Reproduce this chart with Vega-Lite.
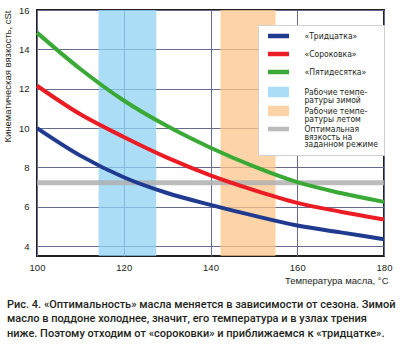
{
  "$schema": "https://vega.github.io/schema/vega-lite/v6.json",
  "width": 347,
  "height": 246,
  "autosize": {"type": "none"},
  "padding": {"left": 37, "top": 10, "right": 16, "bottom": 90},
  "background": "white",
  "config": {
    "view": {"stroke": "#231f20", "strokeWidth": 2},
    "axis": {
      "labelFont": "Liberation Sans",
      "labelFontSize": 9.5,
      "labelColor": "#231f20",
      "labelFlush": false,
      "titleFont": "Liberation Sans",
      "titleFontSize": 9.5,
      "titleFontWeight": "normal",
      "titleColor": "#231f20",
      "gridColor": "#666b8c",
      "gridWidth": 1,
      "gridOpacity": 1,
      "domain": false,
      "ticks": false
    }
  },
  "title": {
    "text": [
      "Рис. 4. «Оптимальность» масла меняется в зависимости от сезона. Зимой",
      "масло в поддоне холоднее, значит, его температура и в узлах трения",
      "ниже. Поэтому отходим от «сороковки» и приближаемся к «тридцатке»."
    ],
    "orient": "bottom",
    "anchor": "start",
    "frame": "group",
    "dx": -30,
    "offset": 14,
    "baseline": "top",
    "font": "Roboto",
    "fontSize": 11,
    "fontWeight": 500,
    "lineHeight": 14.8,
    "color": "#231f20"
  },
  "datasets": {
    "curves": [
      {"oil": "«Тридцатка»", "t": 100, "v": 10.0},
      {"oil": "«Тридцатка»", "t": 110, "v": 8.6},
      {"oil": "«Тридцатка»", "t": 120, "v": 7.5},
      {"oil": "«Тридцатка»", "t": 130, "v": 6.7},
      {"oil": "«Тридцатка»", "t": 140, "v": 6.1},
      {"oil": "«Тридцатка»", "t": 150, "v": 5.55},
      {"oil": "«Тридцатка»", "t": 160, "v": 5.05},
      {"oil": "«Тридцатка»", "t": 170, "v": 4.7},
      {"oil": "«Тридцатка»", "t": 180, "v": 4.35},
      {"oil": "«Сороковка»", "t": 100, "v": 12.15},
      {"oil": "«Сороковка»", "t": 110, "v": 10.7},
      {"oil": "«Сороковка»", "t": 120, "v": 9.55},
      {"oil": "«Сороковка»", "t": 130, "v": 8.5},
      {"oil": "«Сороковка»", "t": 140, "v": 7.6},
      {"oil": "«Сороковка»", "t": 150, "v": 6.85},
      {"oil": "«Сороковка»", "t": 160, "v": 6.2},
      {"oil": "«Сороковка»", "t": 170, "v": 5.75},
      {"oil": "«Сороковка»", "t": 180, "v": 5.35},
      {"oil": "«Пятидесятка»", "t": 100, "v": 14.85},
      {"oil": "«Пятидесятка»", "t": 110, "v": 13.0},
      {"oil": "«Пятидесятка»", "t": 120, "v": 11.4},
      {"oil": "«Пятидесятка»", "t": 130, "v": 10.1},
      {"oil": "«Пятидесятка»", "t": 140, "v": 9.0},
      {"oil": "«Пятидесятка»", "t": 150, "v": 8.05},
      {"oil": "«Пятидесятка»", "t": 160, "v": 7.25},
      {"oil": "«Пятидесятка»", "t": 170, "v": 6.7},
      {"oil": "«Пятидесятка»", "t": 180, "v": 6.25}
    ],
    "vbands": [
      {"oil": "Рабочие темпе-|ратуры зимой", "t1": 114.2, "t2": 127.5},
      {"oil": "Рабочие темпе-|ратуры летом", "t1": 142.3, "t2": 155.0}
    ],
    "hbands": [
      {"oil": "Оптимальная|вязкость на|заданном режиме", "v1": 7.1, "v2": 7.35}
    ]
  },
  "layer": [
    {
      "data": {"name": "vbands"},
      "mark": {"type": "rect", "opacity": 0.75},
      "encoding": {
        "x": {"field": "t1", "type": "quantitative", "scale": {"domain": [100, 180], "nice": false, "zero": false}},
        "x2": {"field": "t2"},
        "color": {"field": "oil", "type": "nominal"}
      }
    },
    {
      "data": {"name": "hbands"},
      "mark": {"type": "rect", "opacity": 0.85},
      "encoding": {
        "y": {"field": "v1", "type": "quantitative", "scale": {"domain": [3.5, 16], "nice": false, "zero": false}},
        "y2": {"field": "v2"},
        "color": {"field": "oil", "type": "nominal"}
      }
    },
    {
      "data": {"name": "curves"},
      "mark": {"type": "line", "strokeWidth": 4, "interpolate": "monotone"},
      "encoding": {
        "x": {
          "field": "t", "type": "quantitative",
          "scale": {"domain": [100, 180], "nice": false, "zero": false},
          "axis": {
            "values": [100, 120, 140, 160, 180],
            "labelPadding": 6,
            "title": "Температура масла, °C",
            "titleAnchor": "end",
            "titleAlign": "right",
            "titleX": 351,
            "titleY": 24,
            "titleBaseline": "middle"
          }
        },
        "y": {
          "field": "v", "type": "quantitative",
          "scale": {"domain": [3.5, 16], "nice": false, "zero": false},
          "axis": {
            "values": [4, 6, 8, 10, 12, 14, 16],
            "labelPadding": 8,
            "title": "Кинематическая вязкость, cSt",
            "titleAnchor": "end",
            "titlePadding": 6
          }
        },
        "color": {
          "field": "oil", "type": "nominal",
          "scale": {
            "domain": ["«Тридцатка»", "«Сороковка»", "«Пятидесятка»", "Рабочие темпе-|ратуры зимой", "Рабочие темпе-|ратуры летом", "Оптимальная|вязкость на|заданном режиме"],
            "range": ["#1f3a8f", "#ec1c24", "#3aa935", "#8fd3f3", "#fcc58a", "#b0b0b0"]
          },
          "legend": {
            "title": null,
            "orient": "none",
            "legendX": 221,
            "legendY": 15,
            "fillColor": "white",
            "strokeColor": "#d0d0d0",
            "padding": 6,
            "symbolOffset": 9.5,
            "rowPadding": 0,
            "labelFont": "DejaVu Sans Condensed",
            "labelFontSize": 8.5,
            "labelColor": "#231f20",
            "labelLimit": 200,
            "labelOffset": 21,
            "labelExpr": "split(datum.label, '|')",
            "symbolSize": 100,
            "symbolStrokeWidth": 0,
            "encode": {
              "symbols": {
                "update": {
                  "shape": {"signal": "datum.index == 0 ? 'M-2.1,-0.45H2.1V0.45H-2.1ZM0,0L0,1.8' : (datum.index == 1 ? 'M-2.1,-0.45H2.1V0.45H-2.1ZM0,-1.8L0,1.7' : (datum.index == 2 ? 'M-2.1,-0.45H2.1V0.45H-2.1ZM0,-1.7L0,2.8' : (datum.index == 3 ? 'M-2.1,-1.05H2.1V1.05H-2.1Z' : (datum.index == 4 ? 'M-2.1,-1.05H2.1V1.05H-2.1Z' : 'M-2.1,-0.45H2.1V0.45H-2.1Z'))))"},
                  "fill": {"signal": "scale('color', datum.value)"},
                  "stroke": {"value": "transparent"},
                  "strokeWidth": {"value": 0},
                  "opacity": {"signal": "datum.index == 3 || datum.index == 4 ? 0.75 : (datum.index == 5 ? 0.85 : 1)"},
                  "fillOpacity": {"value": 1}
                }
              },
              "labels": {
                "update": {
                  "lineHeight": {"value": 7.7},
                  "baseline": {"signal": "datum.index == 5 ? 'top' : 'middle'"},
                  "dy": {"signal": "datum.index == 5 ? -4 : 0"}
                }
              }
            }
          }
        }
      }
    }
  ]
}
